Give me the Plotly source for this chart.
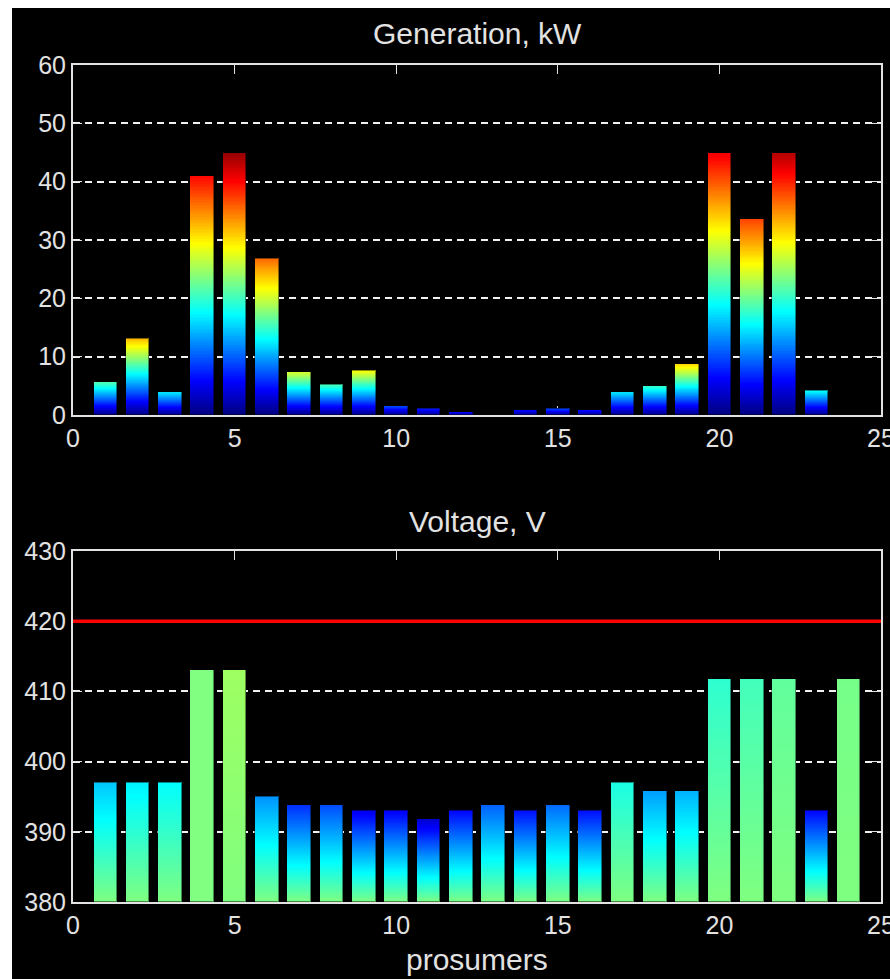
import numpy as np
import plotly.graph_objects as go

# ---------------- data ----------------
prosumers = list(range(1, 25))
generation_kw = [5.6, 13.1, 3.9, 40.9, 44.9, 26.8, 7.3, 5.2, 7.6, 1.5, 1.1, 0.45,
                 0.0, 0.8, 1.1, 0.8, 3.9, 4.9, 8.7, 44.9, 33.6, 44.9, 4.2, 0.0]
# colour level (0..1 on the jet scale) reached at the top of each generation bar
generation_colour = [0.45, 0.69, 0.35, 0.87, 0.98, 0.77, 0.58, 0.44, 0.62, 0.19, 0.15, 0.12,
                     0.0, 0.12, 0.19, 0.13, 0.35, 0.42, 0.66, 0.89, 0.81, 0.95, 0.38, 0.0]
voltage_v = [397, 397, 397, 413, 413, 395, 393.8, 393.8, 393.0, 393.0, 391.8, 393.0,
             393.8, 393.0, 393.8, 393.0, 397, 395.8, 395.8, 411.8, 411.8, 411.8, 393.0, 411.8]
# colour level (0..1 on the jet scale) reached at the top of each voltage bar
voltage_colour = [0.32, 0.36, 0.375, 0.50, 0.53, 0.27, 0.17, 0.20, 0.11, 0.12, 0.08, 0.13,
                  0.22, 0.14, 0.23, 0.14, 0.40, 0.28, 0.30, 0.42, 0.44, 0.47, 0.13, 0.49]
voltage_limit_v = 420
x_ticks = [0, 5, 10, 15, 20, 25]
gen_ticks = [0, 10, 20, 30, 40, 50, 60]
volt_ticks = [380, 390, 400, 410, 420, 430]

# ---------------- helpers ----------------
def jet(t):
    t = float(np.clip(t, 0, 1))
    r = np.clip(1.5 - abs(4 * t - 3), 0, 1)
    g = np.clip(1.5 - abs(4 * t - 2), 0, 1)
    b = np.clip(1.5 - abs(4 * t - 1), 0, 1)
    return "rgb(%d,%d,%d)" % (round(r * 255), round(g * 255), round(b * 255))


N_SEG = 160
BAR_W = 0.73


def gradient_bars(xs, vals, base, lo_levels, hi_levels, xaxis, yaxis):
    px, pbase, ph, pc = [], [], [], []
    for xi, v, lo, hi in zip(xs, vals, lo_levels, hi_levels):
        h = v - base
        if h <= 0:
            continue
        step = h / N_SEG
        for k in range(N_SEG):
            b0 = base + k * step
            px.append(xi)
            pbase.append(b0)
            ph.append(min(2.5 * step, v - b0))
            pc.append(jet(lo + (hi - lo) * (k + 0.5) / N_SEG))
    fill = go.Bar(x=px, y=ph, base=pbase, width=BAR_W,
                  marker=dict(color=pc, line=dict(width=0)),
                  xaxis=xaxis, yaxis=yaxis, hoverinfo="skip", showlegend=False)
    ox = [x for x, v in zip(xs, vals) if v > base]
    oy = [v - base for v in vals if v > base]
    outline = go.Bar(x=ox, y=oy, base=[base] * len(ox), width=BAR_W,
                     marker=dict(color="rgba(0,0,0,0)",
                                 line=dict(width=1, color="rgba(0,0,0,0.45)")),
                     xaxis=xaxis, yaxis=yaxis, hoverinfo="skip", showlegend=False)
    return [fill, outline]


fig = go.Figure()
for tr in gradient_bars(prosumers, generation_kw, 0, [0.0] * len(prosumers),
                        generation_colour, "x", "y"):
    fig.add_trace(tr)
for tr in gradient_bars(prosumers, voltage_v, volt_ticks[0], [0.5] * len(prosumers),
                        voltage_colour, "x2", "y2"):
    fig.add_trace(tr)

# ---------------- layout ----------------
W, H = 890, 979
ML, MR, MT, MB = 73, 9, 65, 77
PW, PH = W - ML - MR, H - MT - MB


def px_x(p):
    return (p - ML) / PW


def px_y(p):
    return (H - MB - p) / PH


FG = "#E2E2E2"
FONT = "Liberation Sans, Arial, sans-serif"

common_x = dict(range=[x_ticks[0], x_ticks[-1]], tickvals=x_ticks, ticks="inside",
                ticklen=9, tickwidth=1, tickcolor=FG, showline=True, linecolor=FG,
                linewidth=2, mirror="ticks", showgrid=False, zeroline=False,
                layer="below traces", tickfont=dict(size=25, color=FG, family=FONT),
                ticklabeloverflow="allow", fixedrange=True, automargin=False)
common_y = dict(ticks="inside", ticklen=9, tickwidth=1, tickcolor=FG, showline=True,
                linecolor=FG, linewidth=2, mirror="ticks", showgrid=True,
                gridcolor="#F0F0F0", gridwidth=1.6, griddash="7px,5px", zeroline=False,
                layer="below traces", tickfont=dict(size=25, color=FG, family=FONT),
                ticklabeloverflow="allow", fixedrange=True, automargin=False)

fig.update_layout(
    width=W, height=H,
    margin=dict(l=ML, r=MR, t=MT, b=MB, pad=0),
    paper_bgcolor="white", plot_bgcolor="black",
    barmode="overlay", bargap=0,
    xaxis=dict(common_x, anchor="y", domain=[0, 1]),
    yaxis=dict(common_y, anchor="x", domain=[px_y(415), 1],
               range=[gen_ticks[0], gen_ticks[-1]], tickvals=gen_ticks),
    xaxis2=dict(common_x, anchor="y2", domain=[0, 1]),
    yaxis2=dict(common_y, anchor="x2", domain=[0, px_y(551)],
                range=[volt_ticks[0], volt_ticks[-1]], tickvals=volt_ticks),
    shapes=[
        dict(type="rect", xref="paper", yref="paper", x0=px_x(12), x1=px_x(W + 5),
             y0=px_y(H + 5), y1=px_y(8), fillcolor="black", line=dict(width=0),
             layer="below"),
        dict(type="line", xref="x2 domain", yref="y2", x0=0, x1=1,
             y0=voltage_limit_v, y1=voltage_limit_v,
             line=dict(color="#FF0000", width=3.5), layer="above"),
    ],
    annotations=[
        dict(text="Generation, kW", xref="paper", yref="paper", x=0.5, y=px_y(33),
             xanchor="center", yanchor="middle", showarrow=False,
             font=dict(size=30, color=FG, family=FONT)),
        dict(text="Voltage, V", xref="paper", yref="paper", x=0.5, y=px_y(521),
             xanchor="center", yanchor="middle", showarrow=False,
             font=dict(size=30, color=FG, family=FONT)),
        dict(text="prosumers", xref="paper", yref="paper", x=0.5, y=px_y(959),
             xanchor="center", yanchor="middle", showarrow=False,
             font=dict(size=30, color=FG, family=FONT)),
    ],
)

fig.write_html("out.html")
